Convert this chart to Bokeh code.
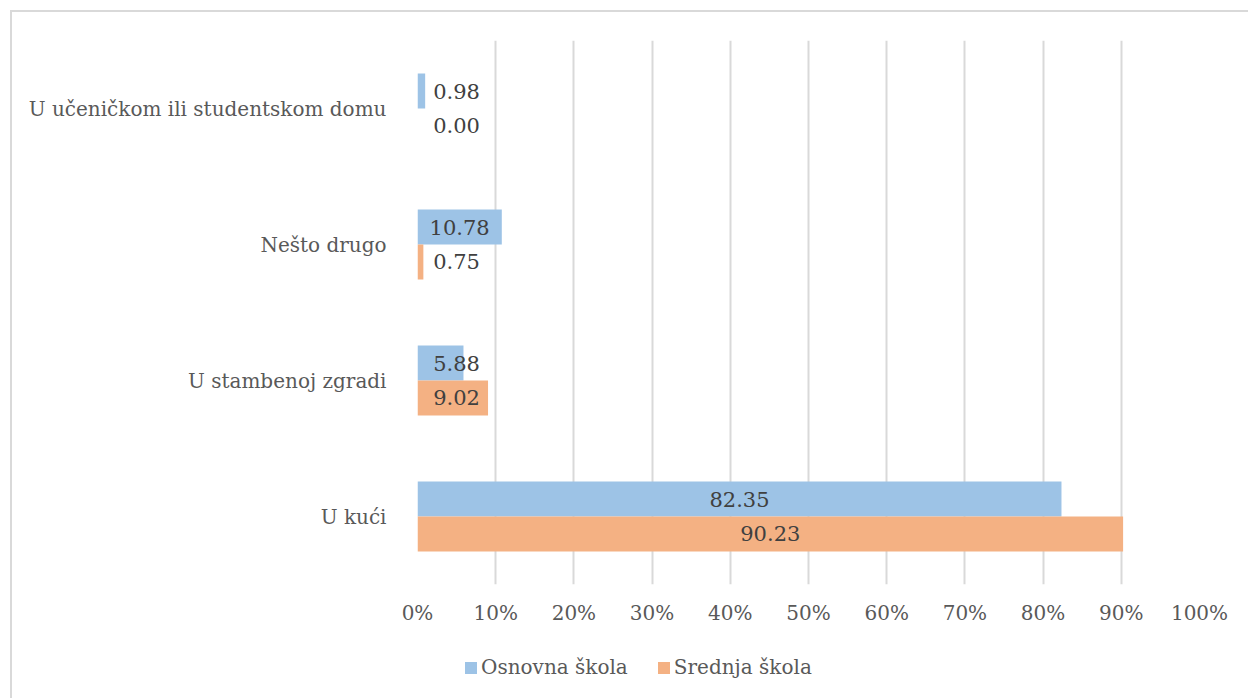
from bokeh.plotting import figure
from bokeh.layouts import column
from bokeh.models import (FactorRange, Range1d, ColumnDataSource, Legend, LegendItem,
                          FixedTicker)
from bokeh.transform import dodge
from bokeh.core.properties import value
from bokeh.embed import file_html
from bokeh.resources import INLINE

# ---- data ----
categories = ["U kući", "U stambenoj zgradi", "Nešto drugo", "U učeničkom ili studentskom domu"]
osnovna = [82.35, 5.88, 10.78, 0.98]
srednja = [90.23, 9.02, 0.75, 0.00]
series_names = ["Osnovna škola", "Srednja škola"]
x_ticks = [0, 10, 20, 30, 40, 50, 60, 70, 80, 90, 100]
x_tick_labels = ["0%", "10%", "20%", "30%", "40%", "50%", "60%", "70%", "80%", "90%", "100%"]

BLUE = "#9DC3E6"
ORANGE = "#F4B183"
FONT = "DejaVu Serif"
MIN_LABEL_X = 5.0

src = ColumnDataSource(dict(
    cat=categories,
    osnovna=osnovna,
    srednja=srednja,
    osnovna_lx=[max(v / 2, MIN_LABEL_X) for v in osnovna],
    srednja_lx=[max(v / 2, MIN_LABEL_X) for v in srednja],
    osnovna_txt=[f"{v:.2f}" for v in osnovna],
    srednja_txt=[f"{v:.2f}" for v in srednja],
))

p = figure(y_range=FactorRange(*categories), x_range=Range1d(0, 100),
           width=1236, height=632, output_backend="svg", toolbar_location=None,
           min_border_left=405, min_border_right=49, min_border_top=28, min_border_bottom=60)

BAR_H = 0.257
p.hbar(y=dodge("cat", BAR_H / 2, range=p.y_range), left=0, right="osnovna", height=BAR_H,
       fill_color=BLUE, line_color=None, source=src)
p.hbar(y=dodge("cat", -BAR_H / 2, range=p.y_range), left=0, right="srednja", height=BAR_H,
       fill_color=ORANGE, line_color=None, source=src)

p.text(x="osnovna_lx", y=dodge("cat", BAR_H / 2, range=p.y_range), text="osnovna_txt",
       text_align="center", text_baseline="middle", text_font=value(FONT),
       text_font_size="21px", text_color="#404040", source=src)
p.text(x="srednja_lx", y=dodge("cat", -BAR_H / 2, range=p.y_range), text="srednja_txt",
       text_align="center", text_baseline="middle", text_font=value(FONT),
       text_font_size="21px", text_color="#404040", source=src)

p.outline_line_color = None
p.ygrid.visible = False
p.xgrid.grid_line_color = "#d9d9d9"
p.xgrid.grid_line_width = 2

p.xaxis.ticker = FixedTicker(ticks=x_ticks)
p.xaxis.major_label_overrides = {t: l for t, l in zip(x_ticks, x_tick_labels)}
p.xaxis.axis_line_color = None
p.xaxis.major_tick_line_color = None
p.xaxis.minor_tick_line_color = None
p.xaxis.major_label_standoff = 10
p.xaxis.major_label_text_font = FONT
p.xaxis.major_label_text_font_size = "20px"
p.xaxis.major_label_text_color = "#595959"

p.yaxis.axis_line_color = None
p.yaxis.major_tick_line_color = None
p.yaxis.minor_tick_line_color = None
p.yaxis.major_label_standoff = 25
p.yaxis.major_label_text_font = FONT
p.yaxis.major_label_text_font_size = "20px"
p.yaxis.major_label_text_color = "#595959"

# ---- legend strip (separate small figure below the chart; its bars are not shown) ----
leg = figure(width=1236, height=54, x_range=Range1d(101, 102), y_range=FactorRange(*categories),
             output_backend="svg", toolbar_location=None,
             x_axis_type=None, y_axis_type=None,
             min_border_left=0, min_border_right=0, min_border_top=0, min_border_bottom=0)
leg.outline_line_color = None
leg.grid.visible = False
lr1 = leg.hbar(y="cat", left=0, right="osnovna", height=0, fill_color=BLUE, line_color=None, source=src)
lr2 = leg.hbar(y="cat", left=0, right="srednja", height=0, fill_color=ORANGE, line_color=None, source=src)

legend = Legend(items=[LegendItem(label=series_names[0], renderers=[lr1]),
                       LegendItem(label=series_names[1], renderers=[lr2])],
                orientation="horizontal", location=(46, 19),
                padding=0, margin=0, spacing=28, label_standoff=3,
                glyph_width=15, glyph_height=15,
                label_text_font=FONT, label_text_font_size="20px", label_text_color="#595959",
                border_line_color=None, background_fill_alpha=0)
leg.add_layout(legend, "center")

layout = column(p, leg, spacing=0)
layout.styles = {"margin-left": "10px", "margin-top": "10px",
                 "border-left": "2px solid #d9d9d9", "border-top": "2px solid #d9d9d9"}

open("out.html", "w").write(file_html(layout, INLINE))
